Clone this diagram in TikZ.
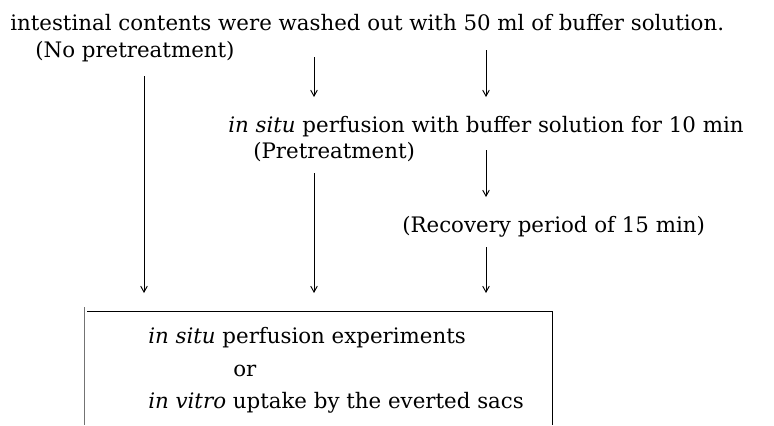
\documentclass[tikz,border=0pt]{standalone}
\usepackage{fontspec}
\setmainfont{DejaVu Serif}
\usetikzlibrary{arrows.meta}
\begin{document}
\begin{tikzpicture}[x=0.75pt,y=-0.75pt,
  txt/.style={inner sep=0pt,anchor=base west,font=\fontsize{16}{19}\selectfont},
  arr/.style={line width=0.7pt,-{Straight Barb[length=4.5pt,width=5pt]}},
  ln/.style={line width=0.7pt}]
\useasboundingbox (0,0) rectangle (774,425);
\node[txt] (wash) at (10,30) {intestinal contents were washed out with 50 ml of buffer solution.};
\node[txt] (nopre) at (35,57) {(No pretreatment)};
\node[txt] (perf) at (228,132) {\textit{in situ} perfusion with buffer solution for 10 min};
\node[txt] (pre) at (253,158) {(Pretreatment)};
\node[txt] (rec) at (402,232) {(Recovery period of 15 min)};
\node[txt] (box1) at (148,343) {\textit{in situ} perfusion experiments};
\node[txt] (box2) at (233,376) {or};
\node[txt] (box3) at (148,408) {\textit{in vitro} uptake by the everted sacs};
% coordinates
\coordinate (a1s) at (314,57); \coordinate (a1e) at (314,97);
\coordinate (a2s) at (486,50); \coordinate (a2e) at (486,97);
\coordinate (a3s) at (486,150); \coordinate (a3e) at (486,197);
\coordinate (a4s) at (486,247); \coordinate (a4e) at (486,293);
\coordinate (l1s) at (144,76); \coordinate (l1e) at (144,293);
\coordinate (l2s) at (314,173); \coordinate (l2e) at (314,293);
\draw[arr] (a1s) -- (a1e);
\draw[arr] (a2s) -- (a2e);
\draw[arr] (a3s) -- (a3e);
\draw[arr] (a4s) -- (a4e);
\draw[arr] (l1s) -- (l1e);
\draw[arr] (l2s) -- (l2e);
% box
\coordinate (bl) at (84,307); \coordinate (blb) at (84,425);
\coordinate (tl) at (87,311); \coordinate (tr) at (552,311); \coordinate (br) at (552,425);
\draw[ln,black!55] (bl) -- (blb);
\draw[ln] (tl) -- (tr) -- (br);
\end{tikzpicture}
\end{document}
